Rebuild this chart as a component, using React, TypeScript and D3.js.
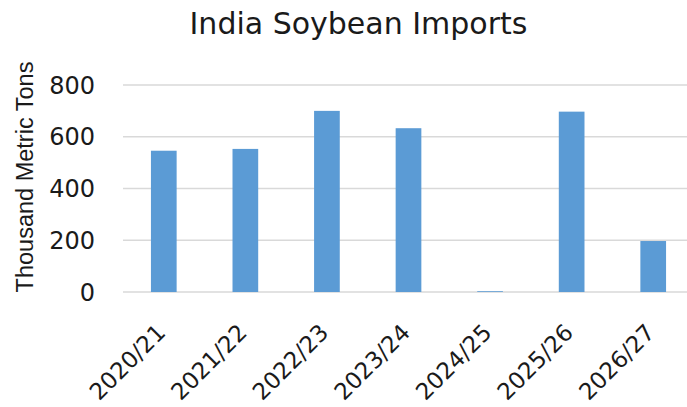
import React, { useEffect, useRef } from 'react';
import * as d3 from 'd3';

const categories = ['2020/21', '2021/22', '2022/23', '2023/24', '2024/25', '2025/26', '2026/27'];
const imports = [546, 553, 700, 633, 3, 697, 197];
const yTicks = [0, 200, 400, 600, 800];

const App: React.FC = () => {
  const chartRef = useRef<SVGSVGElement | null>(null);

  useEffect(() => {
    const svg = d3.select(chartRef.current);
    svg.selectAll('*').remove();

    const font = '"DejaVu Sans", sans-serif';
    const labelFont = '"Liberation Sans", Arial, sans-serif';
    const margin = { top: 85, left: 123 };
    const width = 571;
    const height = 207;

    const x = d3.scaleBand<string>().domain(categories).range([0, width]).paddingInner(0.685).paddingOuter(0.3425);
    const y = d3.scaleLinear().domain([0, 800]).range([height, 0]);

    const g = svg.append('g').attr('transform', `translate(${margin.left},${margin.top})`);

    // Gridlines
    g.selectAll('.grid')
      .data(yTicks)
      .enter()
      .append('line')
      .attr('x1', 0)
      .attr('x2', width)
      .attr('y1', (d) => y(d))
      .attr('y2', (d) => y(d))
      .attr('stroke', '#d9d9d9')
      .attr('stroke-width', 1.5);

    // Bars
    g.selectAll('.bar')
      .data(imports)
      .enter()
      .append('rect')
      .attr('x', (_, i) => x(categories[i])!)
      .attr('y', (d) => y(d))
      .attr('width', x.bandwidth())
      .attr('height', (d) => height - y(d))
      .attr('fill', '#5b9bd5');

    // Y tick labels
    g.selectAll('.ytick')
      .data(yTicks)
      .enter()
      .append('text')
      .attr('x', -28)
      .attr('y', (d) => y(d))
      .attr('dy', '0.36em')
      .attr('text-anchor', 'end')
      .style('font-family', font)
      .style('font-size', '24px')
      .attr('fill', '#1a1a1a')
      .text((d) => d);

    // X tick labels
    g.selectAll('.xtick')
      .data(categories)
      .enter()
      .append('text')
      .attr('transform', (d) => `translate(${x(d)! + x.bandwidth() / 2 + 3},${height + 42}) rotate(-45)`)
      .attr('text-anchor', 'end')
      .style('font-family', font)
      .style('font-size', '23px')
      .attr('fill', '#1a1a1a')
      .text((d) => d);

    // Title
    svg
      .append('text')
      .attr('x', 358.5)
      .attr('y', 34)
      .attr('text-anchor', 'middle')
      .style('font-family', font)
      .style('font-size', '30px')
      .attr('fill', '#1a1a1a')
      .text('India Soybean Imports');

    // Y axis title
    svg
      .append('text')
      .attr('transform', 'translate(32.5,177) rotate(-90)')
      .attr('text-anchor', 'middle')
      .style('font-family', labelFont)
      .style('font-size', '23.5px')
      .attr('fill', '#1a1a1a')
      .text('Thousand Metric Tons');
  }, []);

  return <svg ref={chartRef} width={687} height={407} style={{ display: 'block', position: 'absolute', left: 0, top: 0 }}></svg>;
};

export default App;
